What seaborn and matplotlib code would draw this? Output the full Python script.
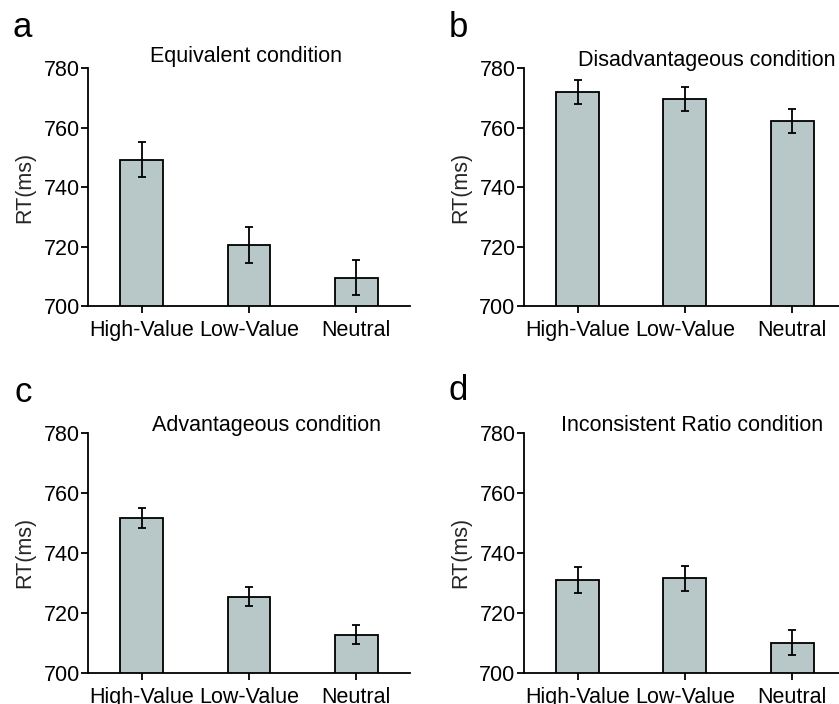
import numpy as np
import pandas as pd
import matplotlib
matplotlib.use("Agg")
import matplotlib.pyplot as plt
import seaborn as sns

# data
categories = ["High-Value", "Low-Value", "Neutral"]
panel_letters = ["a", "b", "c", "d"]
panel_titles = ["Equivalent condition", "Disadvantageous condition",
                "Advantageous condition", "Inconsistent Ratio condition"]

rt_equivalent = [749.2, 720.5, 709.5]
se_equivalent = [5.9, 5.9, 5.9]
rt_disadvantageous = [772.0, 769.5, 762.2]
se_disadvantageous = [4.1, 4.0, 4.0]
rt_advantageous = [751.5, 725.3, 712.7]
se_advantageous = [3.4, 3.2, 3.2]
rt_inconsistent = [730.8, 731.4, 710.0]
se_inconsistent = [4.3, 4.3, 4.2]

yticks = [700, 720, 740, 760, 780]

sns.set_theme(style="ticks")
plt.rcParams['font.family'] = ['Liberation Sans', 'DejaVu Sans']

BAR_COLOR = "#b8c8c9"

fig = plt.figure(figsize=(8.39, 7.04), dpi=100)

# axes boxes in figure fractions [left, bottom, width, height]
boxes = [
    [0.1049, 0.5653, 0.3838, 0.3381],
    [0.6245, 0.5653, 0.3838, 0.3381],
    [0.1049, 0.0445, 0.3838, 0.3410],
    [0.6245, 0.0445, 0.3838, 0.3410],
]
# title placement (axes fraction) and letter placement (figure px)
title_pos = [(0.49, 1.025), (0.568, 1.008), (0.553, 1.008), (0.522, 1.008)]
letter_pos = [(13, 37), (449, 37), (14, 402), (449, 400)]

rts = [rt_equivalent, rt_disadvantageous, rt_advantageous, rt_inconsistent]
ses = [se_equivalent, se_disadvantageous, se_advantageous, se_inconsistent]

for i in range(4):
    ax = fig.add_axes(boxes[i])
    df = pd.DataFrame({"cond": categories, "rt": rts[i]})
    sns.barplot(data=df, x="cond", y="rt", order=categories, color=BAR_COLOR,
                saturation=1, width=0.4, edgecolor="black", linewidth=1.3,
                errorbar=None, ax=ax)
    ax.errorbar(np.arange(len(categories)), rts[i], yerr=ses[i], fmt="none",
                ecolor="black", elinewidth=1.3, capsize=3.0, capthick=1.3)

    ax.set_ylim(700, 780)
    ax.set_xlim(-0.5, 2.5)
    ax.set_yticks(yticks)
    ax.set_yticklabels([str(t) for t in yticks])
    ax.set_xlabel("")
    ax.set_ylabel("RT(ms)", fontsize=15.5, labelpad=6)
    ax.tick_params(axis="both", labelsize=15.5, width=1.3, length=5,
                   color="black", labelcolor="black", pad=1)
    ax.tick_params(axis="x", pad=5)
    for s in ["top", "right"]:
        ax.spines[s].set_visible(False)
    for s in ["left", "bottom"]:
        ax.spines[s].set_linewidth(1.3)
        ax.spines[s].set_color("black")
    ax.set_facecolor("white")
    ax.patch.set_alpha(0)

    ax.text(title_pos[i][0], title_pos[i][1], panel_titles[i], transform=ax.transAxes,
            ha="center", va="baseline", fontsize=15.5, color="black")
    fig.text(letter_pos[i][0] / 839, 1 - letter_pos[i][1] / 704, panel_letters[i],
             ha="left", va="baseline", fontsize=25, color="black")

fig.savefig("out.png", dpi=100, facecolor="white")
